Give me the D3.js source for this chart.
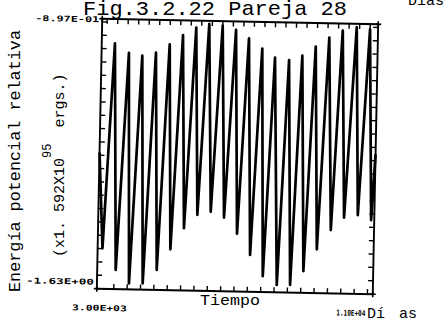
<!DOCTYPE html>
<html>
<head>
<meta charset="utf-8">
<script src="https://cdn.jsdelivr.net/npm/d3@7"></script>
<style>
body { margin: 0; background: #fff; overflow: hidden; }
svg { display: block; }
</style>
</head>
<body>
<svg id="chart" width="444" height="330"></svg>
<script>
// Tiempo (dias) y energia potencial relativa
const days = [3000, 3140, 3383, 3536, 3794, 3928, 4183, 4325, 4577, 4725,
	4971, 5108, 5351, 5490, 5731, 5870, 6106, 6256, 6496, 6644,
	6885, 7030, 7265, 7421, 7656, 7801, 8030, 8212, 8439, 8598,
	8821, 8975, 9204, 9352, 9592, 9746, 9978, 10123, 10381, 10520,
	10768, 10909, 11000];
const energy = [-1.26, -1.52, -0.963, -1.578, -0.988, -1.614, -0.995, -1.613, -0.986, -1.576,
	-0.963, -1.519, -0.937, -1.461, -0.916, -1.424, -0.905, -1.415, -0.909, -1.430,
	-0.920, -1.473, -0.942, -1.530, -0.969, -1.587, -0.993, -1.610, -0.999, -1.609,
	-0.986, -1.571, -0.961, -1.511, -0.936, -1.458, -0.916, -1.424, -0.906, -1.416,
	-0.911, -1.429, -1.25];

const xDomain = [3000, 11000];
const yDomain = [-1.63, -0.897];
const xLabels = ["3.00E+03", "1.10E+04"];
const yLabels = ["-1.63E+00", "-8.97E-01"];
const bottomTicks = d3.range(3477, 11000, 387);
const topTicks = d3.range(3130, 11000, 305);
const sideTicks = d3.range(-1.592, -0.9, 0.0362);

const svg = d3.select('#chart');
const x = d3.scaleLinear().domain(xDomain).range([99.5, 375.5]);
const y = d3.scaleLinear().domain(yDomain).range([291.5, 21.5]);
const x0 = x.range()[0], x1 = x.range()[1];
const yb = y.range()[0], yt = y.range()[1];

// the scan is a little crooked
const g = svg.append('g').attr('transform', 'rotate(1.15 237.5 156.5)');

g.append('rect')
	.attr('x', x0).attr('y', yt)
	.attr('width', x1 - x0).attr('height', yb - yt)
	.attr('fill', 'none').attr('stroke', '#000').attr('stroke-width', 1.9);

// little crosses at the corners
[[x0, yt], [x1, yt], [x0, yb], [x1, yb]].forEach(([cx, cy]) => {
	g.append('path')
		.attr('d', `M${cx - 3},${cy}H${cx + 3}M${cx},${cy - 3}V${cy + 3}`)
		.attr('stroke', '#000').attr('stroke-width', 1.6);
});

function ticks(sel) {
	sel.select('.domain').remove();
	sel.selectAll('line').attr('stroke', '#000').attr('stroke-width', 1.4);
}

g.append('g').attr('transform', `translate(0,${yb})`)
	.call(d3.axisBottom(x).tickValues(bottomTicks).tickSize(-5).tickFormat(''))
	.call(ticks);
g.append('g').attr('transform', `translate(0,${yt})`)
	.call(d3.axisTop(x).tickValues(topTicks).tickSize(-5).tickFormat(''))
	.call(ticks);
g.append('g').attr('transform', `translate(${x0},0)`)
	.call(d3.axisLeft(y).tickValues(sideTicks).tickSize(-5).tickFormat(''))
	.call(ticks);
g.append('g').attr('transform', `translate(${x1},0)`)
	.call(d3.axisRight(y).tickValues(sideTicks).tickSize(-5).tickFormat(''))
	.call(ticks);

const line = d3.line()
	.x((d, i) => x(days[i]))
	.y(d => y(d));

g.append('path')
	.datum(energy)
	.attr('d', line)
	.attr('fill', 'none')
	.attr('stroke', '#000')
	.attr('stroke-width', 2.7)
	.attr('stroke-linejoin', 'round');

// axis end labels
const small = { 'font-family': 'DejaVu Sans Mono', 'font-weight': 'bold', 'font-size': '8px' };
function label(parent, txt, px, py, anchor, len) {
	const t = parent.append('text').text(txt)
		.attr('x', px).attr('y', py)
		.attr('text-anchor', anchor)
		.attr('textLength', len)
		.attr('lengthAdjust', 'spacingAndGlyphs')
		.attr('fill', '#000');
	Object.entries(small).forEach(([k, v]) => t.attr(k, v));
	return t;
}
label(g, yLabels[1], x0 - 3, yt + 3.5, 'end', 64);
label(g, yLabels[0], x0 - 3, yb - 4, 'end', 68);
label(g, xLabels[0], x(xDomain[0]) + 3, yb + 22, 'middle', 55);
label(g, xLabels[1], x(xDomain[1]) - 7, yb + 22, 'end', 29);

const mono = 'Liberation Mono';

svg.append('text')
	.attr('x', 83).attr('y', 15)
	.attr('font-family', mono).attr('font-size', '21px')
	.attr('textLength', 264).attr('lengthAdjust', 'spacingAndGlyphs')
	.attr('fill', '#000')
	.text('Fig.3.2.22 Pareja 28');

svg.append('text')
	.attr('x', 408).attr('y', 5)
	.attr('font-family', mono).attr('font-size', '15px')
	.attr('fill', '#000')
	.text('Días');

svg.append('text')
	.attr('x', 200).attr('y', 305)
	.attr('font-family', mono).attr('font-size', '14px')
	.attr('textLength', 60).attr('lengthAdjust', 'spacingAndGlyphs')
	.attr('fill', '#000')
	.text('Tiempo');

const dias = svg.append('text')
	.attr('x', 367).attr('y', 318)
	.attr('font-family', mono).attr('font-size', '15px')
	.attr('fill', '#000');
dias.append('tspan').text('Dí');
dias.append('tspan').attr('dx', 14).text('as');

svg.append('text')
	.attr('transform', 'translate(20,161) rotate(-90)')
	.attr('text-anchor', 'middle')
	.attr('font-family', mono).attr('font-size', '16px')
	.attr('textLength', 262).attr('lengthAdjust', 'spacingAndGlyphs')
	.attr('fill', '#000')
	.text('Energía potencial relativa');

const units = svg.append('text')
	.attr('transform', 'translate(64,257) rotate(-90)')
	.attr('font-family', mono).attr('font-size', '15px')
	.attr('fill', '#000');
units.append('tspan').text('(x1. 592X10');
units.append('tspan').attr('dy', -13).attr('font-size', '12px').text('95');
units.append('tspan').attr('dy', 13).attr('dx', 16).text('ergs.)');
</script>
</body>
</html>
